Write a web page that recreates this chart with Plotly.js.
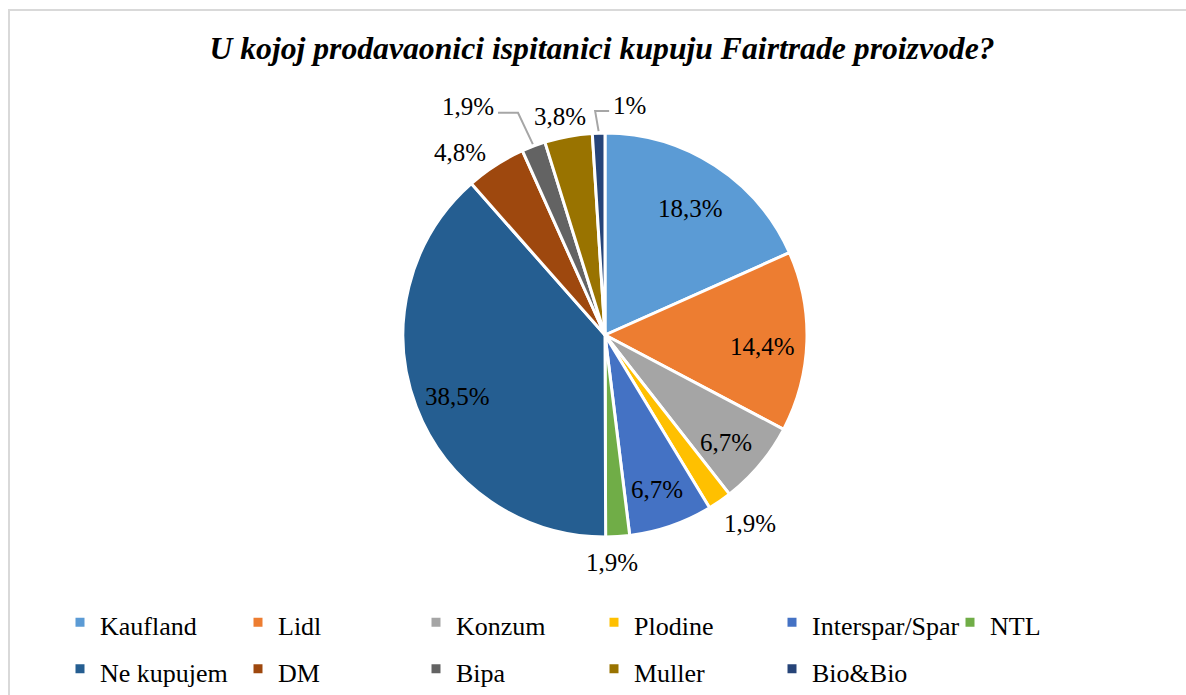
<!DOCTYPE html>
<html>
<head>
<meta charset="utf-8">
<script src="https://cdn.plot.ly/plotly-3.0.1.min.js"></script>
<style>
  html, body { margin: 0; padding: 0; background: #fff; }
  #wrap { position: relative; width: 1186px; height: 695px; overflow: hidden; }
  #chart { position: absolute; left: 0; top: 0; width: 1186px; height: 695px; }
  #frame { position: absolute; left: 8px; top: 9px; width: 1190px; height: 720px;
           border: 2px solid #d9d9d9; pointer-events: none; box-sizing: border-box; }
</style>
</head>
<body>
<div id="wrap">
  <div id="chart"></div>
  <div id="frame"></div>
</div>
<script>
const titleText = 'U kojoj prodavaonici ispitanici kupuju Fairtrade proizvode?';
const stores = ['Kaufland', 'Lidl', 'Konzum', 'Plodine', 'Interspar/Spar', 'NTL',
                'Ne kupujem', 'DM', 'Bipa', 'Muller', 'Bio&Bio'];
const shares = [18.3, 14.4, 6.7, 1.9, 6.7, 1.9, 38.5, 4.8, 1.9, 3.8, 1.0];
const shareLabels = ['18,3%', '14,4%', '6,7%', '1,9%', '6,7%', '1,9%',
                     '38,5%', '4,8%', '1,9%', '3,8%', '1%'];
const sliceColors = ['#5B9BD5', '#ED7D31', '#A5A5A5', '#FFC000', '#4472C4', '#70AD47',
                     '#255E91', '#9E480E', '#636363', '#997300', '#264478'];

// ---- layout / styling (not data) ----
const SERIF = '"Liberation Serif", "Times New Roman", Times, serif';
const W = 1186, H = 695;
const cx = 605, cy = 335, R = 202;
const labelInside = [true, true, true, false, true, false, true, false, false, false, false];
const insideFrac = 0.78, outsideGap = 27, insideDrop = 6;
const labelNudge = { 3: [15, 0], 5: [-7, -1], 7: [-21, 10], 8: [-56, -14], 9: [-3, 7], 10: [32, -1] };
const leaderLen = { 8: 20, 10: 14 };

const total = shares.reduce((a, b) => a + b, 0);
function pt(r, deg) {
  const a = deg * Math.PI / 180;
  return [cx + r * Math.sin(a), cy - r * Math.cos(a)];
}
function px2paper(p) { return [p[0] / W, 1 - p[1] / H]; }

const ctx = document.createElement('canvas').getContext('2d');
ctx.font = '25px "Liberation Serif", "Times New Roman", serif';

const annotations = [];
const shapes = [];
let cum = 0;
shares.forEach((v, i) => {
  const mid = (cum + v / 2) / total * 360;
  cum += v;
  let p;
  if (labelInside[i]) {
    p = pt(R * insideFrac, mid);
    p = [p[0], p[1] + insideDrop];
  } else {
    p = pt(R + outsideGap, mid);
    const n = labelNudge[i] || [0, 0];
    p = [p[0] + n[0], p[1] + n[1]];
  }
  const q = px2paper(p);
  annotations.push({
    x: q[0], y: q[1], xref: 'paper', yref: 'paper',
    xanchor: 'center', yanchor: 'middle', showarrow: false,
    text: shareLabels[i],
    font: { family: SERIF, size: 25, color: '#000' }
  });
  if (leaderLen[i]) {
    const edge = pt(R + 2, mid);
    const halfW = ctx.measureText(shareLabels[i]).width / 2;
    const dir = edge[0] > p[0] ? 1 : -1;
    const s = [p[0] + dir * (halfW + 4), p[1] + 6];
    const e = [s[0] + dir * leaderLen[i], s[1]];
    const P = [s, e, edge].map(px2paper);
    shapes.push({
      type: 'path', xref: 'paper', yref: 'paper',
      path: 'M' + P[0][0] + ',' + P[0][1] + ' L' + P[1][0] + ',' + P[1][1] + ' L' + P[2][0] + ',' + P[2][1],
      line: { color: '#A6A6A6', width: 2 }
    });
  }
});

const trace = {
  type: 'pie',
  labels: stores.map(s => '<span style="font-size:26px">' + s.replace('&', '&amp;') + '</span>'),
  hovertext: stores,
  values: shares,
  text: shareLabels,
  textinfo: 'none',
  hoverinfo: 'text',
  sort: false,
  direction: 'clockwise',
  rotation: 0,
  marker: { colors: sliceColors, line: { color: '#ffffff', width: 3 } },
  domain: { x: [(cx - R) / W, (cx + R) / W], y: [1 - (cy + R) / H, 1 - (cy - R) / H] }
};

const layout = {
  width: W, height: H,
  margin: { l: 0, r: 0, t: 0, b: 0, autoexpand: false },
  paper_bgcolor: '#fff',
  font: { family: SERIF, color: '#000' },
  showlegend: true,
  title: {
    text: '<b><i>' + titleText + '</i></b>',
    font: { family: SERIF, size: 31.7, color: '#000' },
    x: 602 / W, xanchor: 'center', xref: 'container',
    y: 1 - 48 / H, yanchor: 'middle', yref: 'container'
  },
  legend: {
    orientation: 'h',
    x: 60 / W, xanchor: 'left',
    y: 1 - 594 / H, yanchor: 'top',
    entrywidth: 133, entrywidthmode: 'pixels',
    font: { family: SERIF, size: 33.5, color: '#000' },
    traceorder: 'normal'
  },
  annotations: annotations,
  shapes: shapes
};

Plotly.newPlot('chart', [trace], layout, { displayModeBar: false, staticPlot: true });
</script>
</body>
</html>
